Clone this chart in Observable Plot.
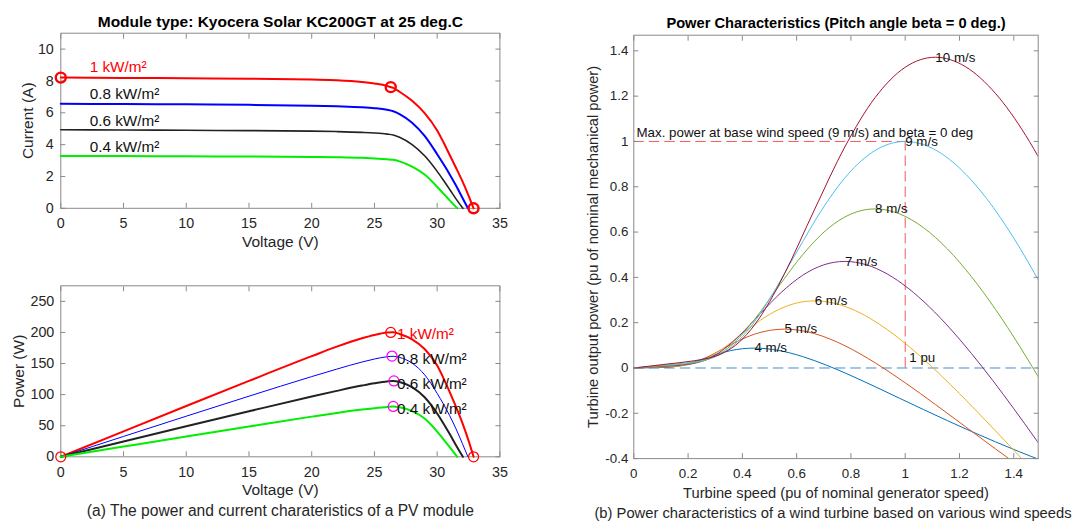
<!DOCTYPE html>
<html><head><meta charset="utf-8">
<script src="https://cdn.jsdelivr.net/npm/d3@7"></script>
<script src="https://cdn.jsdelivr.net/npm/@observablehq/plot@0.6"></script>
<style>
html,body{margin:0;padding:0;background:#fff;}
#wrap{position:relative;width:1075px;height:522px;overflow:hidden;background:#fff;}
</style></head><body><div id="wrap"></div>
<script>
// ---------- PV module data (Kyocera KC200GT, 25 deg.C) ----------
const irradianceLabels = ["1 kW/m²", "0.8 kW/m²", "0.6 kW/m²", "0.4 kW/m²"];
const vRed   = [0,5,10,15,20,22,24,25,26,26.5,27,28,29,30,30.5,31,31.5,32,32.5,32.9];
const iRed   = [8.21,8.19,8.17,8.14,8.09,8.05,7.94,7.84,7.69,7.56,7.32,6.75,5.98,4.89,4.15,3.35,2.55,1.72,0.80,0];
const pRed   = [0,40.95,81.7,122.1,161.8,177.1,190.6,196,199.9,200.3,197.6,189,173.4,146.7,126.6,103.9,80.3,55,26,0];
const vBlue  = [0,5,10,15,20,22,24,25,26,26.5,27,28,29,30,30.5,31,31.5,32,32.45];
const iBlue  = [6.57,6.55,6.53,6.50,6.45,6.41,6.35,6.29,6.19,6.10,5.92,5.38,4.55,3.40,2.78,2.13,1.43,0.68,0];
const pBlue  = [0,32.75,65.3,97.5,129,141,152.4,157.25,160.9,161.65,159.8,150.6,131.95,102,84.8,66,45,21.8,0];
const vBlack = [0,5,10,15,20,22,24,25,26,26.5,27,28,29,30,30.5,31,31.5,32.05];
const iBlack = [4.93,4.92,4.90,4.88,4.85,4.82,4.77,4.73,4.66,4.60,4.46,4.00,3.30,2.32,1.76,1.18,0.59,0];
const pBlack = [0,24.6,49,73.2,97,106,114.5,118.25,121.2,121.9,120.4,112,95.7,69.6,53.7,36.6,18.6,0];
const vGreen = [0,5,10,15,20,22,24,25,26,26.5,27,28,29,30,30.5,31,31.6];
const iGreen = [3.29,3.28,3.27,3.25,3.23,3.21,3.17,3.13,3.08,3.05,2.95,2.62,2.12,1.35,0.92,0.50,0];
const pGreen = [0,16.4,32.7,48.75,64.6,70.6,76.1,78.25,80.1,80.8,79.65,73.4,61.5,40.5,28.1,15.5,0];
// marked points: short circuit, maximum power, open circuit (1 kW/m2)
const keyV = [0, 26.3, 32.9];
const keyI = [8.21, 7.61, 0];
const keyP = [0, 200, 0];
// maximum power points of the lower irradiances
const mppV = [26.4, 26.55, 26.5];
const mppP = [162, 122, 81];
// label anchor points
const ivLabelV = [2.3, 2.3, 2.3, 2.3];
const ivLabelI = [8.85, 7.15, 5.5, 3.85];
const pvLabelV = [26.8, 26.8, 26.8, 26.8];
const pvLabelP = [198, 156.5, 116.5, 76];
const pvVoltTicks = [0,5,10,15,20,25,30,35];
const ivCurrTicks = [0,2,4,6,8,10];
const pvPowTicks = [0,50,100,150,200,250];

// ---------- Wind turbine data (pitch angle beta = 0) ----------
const windLabels = ["4 m/s","5 m/s","6 m/s","7 m/s","8 m/s","9 m/s","10 m/s"];
const w4  = [0,0.0444,0.0889,0.1111,0.1333,0.1556,0.1778,0.2,0.2222,0.2667,0.3111,0.3556,0.4,0.4444,0.4889,0.5333,0.5778,0.6222,0.6667,0.7111,0.7556,0.8,0.8444,0.8889,0.9778,1.0667,1.1556,1.2444,1.3333,1.4222,1.5111];
const p4  = [0,0.0010,0.0020,0.0028,0.0044,0.0073,0.0121,0.0187,0.0267,0.0449,0.0625,0.0764,0.0850,0.0878,0.0851,0.0775,0.0657,0.0503,0.0322,0.0118,-0.0102,-0.0335,-0.0577,-0.0824,-0.1328,-0.1831,-0.2325,-0.2804,-0.3264,-0.3704,-0.4122];
const w5  = [0,0.0556,0.1111,0.1389,0.1667,0.1944,0.2222,0.25,0.2778,0.3333,0.3889,0.4444,0.5,0.5556,0.6111,0.6667,0.7222,0.7778,0.8333,0.8889,0.9444,1.0,1.0556,1.1111,1.2222,1.3333,1.4444];
const p5  = [0,0.0020,0.0040,0.0055,0.0085,0.0143,0.0237,0.0365,0.0521,0.0877,0.1220,0.1492,0.1659,0.1715,0.1662,0.1514,0.1282,0.0983,0.0629,0.0231,-0.0199,-0.0654,-0.1126,-0.1610,-0.2594,-0.3577,-0.4542];
const w6  = [0,0.0667,0.1333,0.1667,0.2,0.2333,0.2667,0.3,0.3333,0.4,0.4667,0.5333,0.6,0.6667,0.7333,0.8,0.8667,0.9333,1.0,1.0667,1.1333,1.2,1.2667,1.3333,1.4667,1.6];
const p6  = [0,0.0034,0.0069,0.0095,0.0148,0.0248,0.0409,0.0630,0.0901,0.1515,0.2109,0.2578,0.2867,0.2963,0.2873,0.2616,0.2216,0.1699,0.1087,0.0400,-0.0344,-0.1130,-0.1946,-0.2782,-0.4482,-0.6181];
const w7  = [0,0.0778,0.1556,0.1944,0.2333,0.2722,0.3111,0.35,0.3889,0.4667,0.5444,0.6222,0.7,0.7778,0.8556,0.9333,1.0111,1.0889,1.1667,1.2444,1.3222,1.4,1.4778,1.5556];
const p7  = [0,0.0054,0.0110,0.0151,0.0234,0.0393,0.0649,0.1001,0.1430,0.2406,0.3349,0.4093,0.4553,0.4705,0.4561,0.4153,0.3519,0.2698,0.1726,0.0635,-0.0546,-0.1795,-0.3091,-0.4418];
const w8  = [0,0.0889,0.1778,0.2222,0.2667,0.3111,0.3556,0.4,0.4444,0.5333,0.6222,0.7111,0.8,0.8889,0.9778,1.0667,1.1556,1.2444,1.3333,1.4222,1.5111];
const p8  = [0,0.0081,0.0164,0.0225,0.0350,0.0587,0.0969,0.1494,0.2135,0.3591,0.4999,0.6110,0.6797,0.7023,0.6809,0.6200,0.5253,0.4027,0.2576,0.0948,-0.0815];
const w9  = [0,0.1,0.2,0.25,0.3,0.35,0.4,0.45,0.5,0.6,0.7,0.8,0.9,1.0,1.1,1.2,1.3,1.4,1.5,1.6];
const p9  = [0,0.0115,0.0233,0.0321,0.0498,0.0836,0.1380,0.2127,0.3040,0.5113,0.7117,0.8699,0.9677,1.0,0.9695,0.8827,0.7479,0.5733,0.3668,0.1349];
const w10 = [0,0.1111,0.2222,0.2778,0.3333,0.3889,0.4444,0.5,0.5556,0.6667,0.7778,0.8889,1.0,1.1111,1.2222,1.3333,1.4444,1.5556];
const p10 = [0,0.0157,0.0319,0.0440,0.0683,0.1147,0.1893,0.2918,0.4169,0.7014,0.9763,1.1933,1.3275,1.3717,1.3299,1.2109,1.0260,0.7865];
const windPeakSpeed = [0.4444,0.5556,0.6667,0.7778,0.8889,1.0,1.1111];
const windPeakPower = [0.0878,0.1715,0.2963,0.4705,0.7023,1.0,1.3717];
const baseSpeed = [1];
const basePower = [1];
const baseNote = ["Max. power at base wind speed (9 m/s) and beta = 0 deg"];
const baseNoteX = [0.01], baseNoteY = [1.04];
const puNote = ["1 pu"];
const puNoteX = [1.015], puNoteY = [0.045];
const windSpeedTicks = [0,0.2,0.4,0.6,0.8,1,1.2,1.4];
const windPowerTicks = [-0.4,-0.2,0,0.2,0.4,0.6,0.8,1,1.2,1.4];

// ---------- helpers ----------
const FONT = "'Liberation Sans', Arial, Helvetica, sans-serif";
const AX = "#8a8a8a", TX = "#262626";
const wrap = document.getElementById("wrap");
const zipRows = (xs, ys) => xs.map((x, k) => ({x, y: ys[k]}));
function place(svg, left, top) {
  svg.style.position = "absolute";
  svg.style.left = left + "px";
  svg.style.top = top + "px";
  wrap.appendChild(svg);
}
function boxAxes(xTicks, yTicks, xPad, yPad, fs) {
  const fmt = d => String(d);
  return [
    Plot.frame({stroke: AX, strokeWidth: 1}),
    Plot.axisX({ticks: xTicks, anchor: "bottom", tickSize: -5, tickPadding: xPad, stroke: AX, fill: TX, tickFormat: fmt, label: null, fontSize: fs}),
    Plot.axisX({ticks: xTicks, anchor: "top", tickSize: -5, stroke: AX, tickFormat: () => "", label: null}),
    Plot.axisY({ticks: yTicks, anchor: "left", tickSize: -5, tickPadding: yPad, stroke: AX, fill: TX, tickFormat: fmt, label: null, fontSize: fs}),
    Plot.axisY({ticks: yTicks, anchor: "right", tickSize: -5, stroke: AX, tickFormat: () => "", label: null})
  ];
}
const style = {fontFamily: FONT, fontSize: "13.33px", background: "transparent", color: TX, overflow: "visible"};
const mid = {textAnchor: "middle", lineAnchor: "middle"};
const pvColors = ["#ff0000", "#0000ff", "#222222", "#00ee00"];
const ivSeries = [[vRed, iRed], [vBlue, iBlue], [vBlack, iBlack], [vGreen, iGreen]];
const pvSeries = [[vRed, pRed], [vBlue, pBlue], [vBlack, pBlack], [vGreen, pGreen]];
const LT = 14.3, LL = 15.5;

// ---------- (a) top: I-V ----------
place(Plot.plot({
  width: 540, height: 260,
  marginLeft: 60.3, marginRight: 40.6, marginTop: 32.7, marginBottom: 52.2,
  style,
  x: {domain: [0, 35]}, y: {domain: [0, 11]},
  marks: [
    ...boxAxes(pvVoltTicks, ivCurrTicks, 14.8, 12, LT),
    ...ivSeries.map(([vs, is], k) => Plot.line(zipRows(vs, is), {x: "x", y: "y", stroke: pvColors[k], strokeWidth: k === 2 ? 1.6 : 2, curve: "monotone-x"})),
    Plot.dot(zipRows(keyV, keyI), {x: "x", y: "y", r: 5, stroke: "#ff0000", strokeWidth: 2.4}),
    ...irradianceLabels.map((t, k) => Plot.text([t], {x: ivLabelV[k], y: ivLabelI[k], textAnchor: "start", lineAnchor: "middle", fontSize: 15.3, fill: k === 0 ? "#ff0000" : "#111"})),
    Plot.text(["Module type: Kyocera Solar KC200GT at 25 deg.C"], {frameAnchor: "top", dy: -10.7, ...mid, fontWeight: "bold", fontSize: LL, fill: "#000"}),
    Plot.text(["Current (A)"], {frameAnchor: "left", rotate: -90, dx: -32.8, ...mid, fontSize: LL, fill: TX}),
    Plot.text(["Voltage (V)"], {frameAnchor: "bottom", dy: 34, ...mid, fontSize: LL, fill: TX})
  ]
}), 0, 0);

// ---------- (a) bottom: P-V ----------
place(Plot.plot({
  width: 540, height: 262,
  marginLeft: 60.3, marginRight: 40.6, marginTop: 25.3, marginBottom: 65.7,
  style,
  x: {domain: [0, 35]}, y: {domain: [0, 275]},
  marks: [
    ...boxAxes(pvVoltTicks, pvPowTicks, 14.8, 11.5, LT),
    ...pvSeries.map(([vs, ps], k) => Plot.line(zipRows(vs, ps), {x: "x", y: "y", stroke: pvColors[k], strokeWidth: k === 1 ? 1 : 2, curve: "monotone-x"})),
    Plot.dot(zipRows(keyV, keyP), {x: "x", y: "y", r: 5, stroke: "#ff0000", strokeWidth: 1.2}),
    Plot.dot(zipRows(mppV, mppP), {x: "x", y: "y", r: 5, stroke: "#ff00ff", strokeWidth: 1.2}),
    ...irradianceLabels.map((t, k) => Plot.text([t], {x: pvLabelV[k], y: pvLabelP[k], textAnchor: "start", lineAnchor: "middle", fontSize: 15.3, fill: k === 0 ? "#ff0000" : "#111"})),
    Plot.text(["Power (W)"], {frameAnchor: "left", rotate: -90, dx: -42.2, ...mid, fontSize: LL, fill: TX}),
    Plot.text(["Voltage (V)"], {frameAnchor: "bottom", dy: 33.7, ...mid, fontSize: LL, fill: TX}),
    Plot.text(["(a) The power and current charateristics of a PV module"], {frameAnchor: "bottom", dy: 54.5, ...mid, fontSize: 15.6, fill: TX})
  ]
}), 0, 260);

// ---------- (b) wind turbine power characteristics ----------
const windColors = ["#0072BD", "#D95319", "#EDB120", "#7E2F8E", "#77AC30", "#4DBEEE", "#A2142F"];
const windSeries = [[w4, p4], [w5, p5], [w6, p6], [w7, p7], [w8, p8], [w9, p9], [w10, p10]];
place(Plot.plot({
  width: 535, height: 522,
  marginLeft: 93.3, marginRight: 37.3, marginTop: 34.7, marginBottom: 63.9,
  style,
  x: {domain: [0, 1.49]}, y: {domain: [-0.4, 1.469]},
  marks: [
    Plot.ruleY([0], {stroke: "#3f8fd6", strokeWidth: 1, strokeDasharray: "10.5,5"}),
    Plot.ruleY(basePower, {x1: 0, x2: baseSpeed[0], stroke: "#f25a5a", strokeWidth: 1, strokeDasharray: "10.5,5"}),
    Plot.ruleX(baseSpeed, {y1: 0, y2: basePower[0], stroke: "#f25a5a", strokeWidth: 1, strokeDasharray: "10.5,5"}),
    ...windSeries.map(([ws, ps], k) => Plot.line(zipRows(ws, ps), {x: "x", y: "y", stroke: windColors[k], strokeWidth: 1, curve: "monotone-x", clip: true})),
    ...boxAxes(windSpeedTicks, windPowerTicks, 15, 10.5, 13.33),
    Plot.text(windLabels.map((t, k) => ({t, x: windPeakSpeed[k], y: windPeakPower[k]})), {x: "x", y: "y", text: "t", textAnchor: "start", lineAnchor: "middle", fontSize: 13.33, fill: "#111"}),
    Plot.text(baseNote, {x: baseNoteX[0], y: baseNoteY[0], textAnchor: "start", lineAnchor: "middle", fontSize: 13.33, fill: "#111"}),
    Plot.text(puNote, {x: puNoteX[0], y: puNoteY[0], textAnchor: "start", lineAnchor: "middle", fontSize: 13.33, fill: "#111"}),
    Plot.text(["Power Characteristics (Pitch angle beta = 0 deg.)"], {frameAnchor: "top", dy: -11.7, ...mid, fontWeight: "bold", fontSize: 14.67, fill: "#000"}),
    Plot.text(["Turbine output power (pu of nominal mechanical power)"], {frameAnchor: "left", rotate: -90, dx: -40.4, ...mid, fontSize: 14.67, fill: TX}),
    Plot.text(["Turbine speed (pu of nominal generator speed)"], {frameAnchor: "bottom", dy: 35, ...mid, fontSize: 14.67, fill: TX}),
    Plot.text(["(b) Power characteristics of a wind turbine based on various wind speeds"], {frameAnchor: "bottom", dy: 54.2, dx: -3, ...mid, fontSize: 14.75, fill: TX})
  ]
}), 540, 0);
</script></body></html>
